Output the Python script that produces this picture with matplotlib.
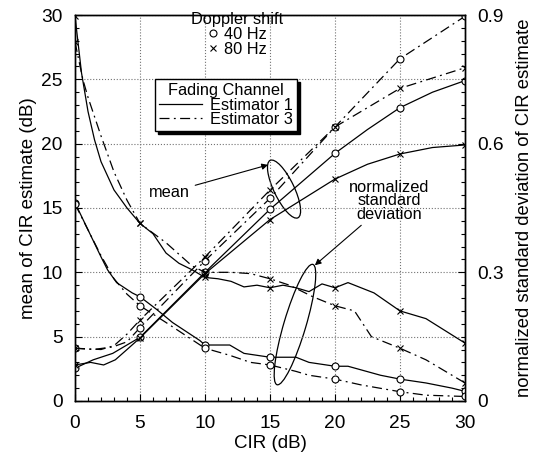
import numpy as np
import matplotlib.pyplot as plt
from matplotlib.lines import Line2D
from matplotlib.patches import Ellipse
from matplotlib.ticker import MultipleLocator, FuncFormatter

plt.rcParams['font.family'] = ['Liberation Sans', 'DejaVu Sans']

# mean of CIR estimate (dB) -- left axis
m1_40_x = [0, 1.4, 2.9, 5, 10, 15, 20, 22.5, 25, 27.5, 30]
m1_40_y = [2.55, 3.2, 3.7, 4.95, 10.0, 14.9, 19.25, 21.1, 22.8, 24.0, 24.9]
m1_80_x = [0, 1.2, 2.2, 3.1, 4, 5, 10, 15, 20, 22.5, 25, 27.5, 30]
m1_80_y = [2.8, 3.0, 2.8, 3.2, 4.0, 4.9, 9.9, 14.1, 17.25, 18.4, 19.2, 19.7, 19.9]
m3_40_x = [0, 1.4, 2.9, 4, 5, 10, 15, 20, 25, 30]
m3_40_y = [4.1, 4.0, 4.2, 4.6, 5.7, 10.9, 15.75, 21.3, 26.6, 29.9]
m3_80_x = [0, 2, 3, 4, 5, 10, 15, 20, 25, 30]
m3_80_y = [4.1, 4.0, 4.3, 5.2, 6.3, 11.2, 16.4, 21.3, 24.3, 25.9]

# normalized standard deviation of CIR estimate -- right axis
s1_80_x = [0, 0.5, 1, 1.5, 2, 3, 4, 5, 6, 7, 8, 9, 10, 11, 12, 13, 14, 15, 16,
           17, 18, 19, 20, 21, 23, 25, 27, 30]
s1_80_y = [0.897, 0.765, 0.675, 0.609, 0.558, 0.492, 0.45, 0.414, 0.39, 0.345,
           0.321, 0.306, 0.288, 0.285, 0.279, 0.266, 0.27, 0.264, 0.27, 0.264,
           0.255, 0.273, 0.264, 0.276, 0.252, 0.21, 0.192, 0.135]
s3_80_x = [0, 0.6, 1, 2, 3, 4, 5, 7, 9, 10, 12, 13.5, 15, 16.5, 18.3, 20, 21.5,
           22.8, 25, 27, 30]
s3_80_y = [0.837, 0.75, 0.708, 0.618, 0.534, 0.468, 0.414, 0.369, 0.315, 0.3,
           0.3, 0.297, 0.285, 0.27, 0.243, 0.222, 0.21, 0.15, 0.123, 0.096, 0.042]
s1_40_x = [0, 1, 2, 2.5, 3.2, 4.4, 5, 6.3, 7.5, 9.6, 10, 11.9, 13, 15, 17, 18,
           20, 21, 23.5, 25, 27, 29, 30]
s1_40_y = [0.462, 0.399, 0.336, 0.306, 0.276, 0.252, 0.243, 0.213, 0.183, 0.141,
           0.1305, 0.1305, 0.111, 0.102, 0.102, 0.09, 0.081, 0.081, 0.06, 0.051,
           0.042, 0.03, 0.0225]
s3_40_x = [0, 1, 2, 3, 4, 5, 7, 8.5, 10, 11.9, 13.5, 15, 17, 18, 20, 22, 25, 27, 30]
s3_40_y = [0.459, 0.399, 0.339, 0.285, 0.249, 0.222, 0.183, 0.153, 0.123, 0.1065,
           0.09, 0.084, 0.069, 0.06, 0.051, 0.0375, 0.0216, 0.0135, 0.0105]

marked = [0, 5, 10, 15, 20, 25, 30]
solid = dict(color='k', lw=0.9, ls='-')
dashdot = dict(color='k', lw=0.9, dashes=[8, 3.5, 1.5, 3.5])
circ = dict(marker='o', ms=5, mfc='white', mec='k', mew=0.8)
cross = dict(marker='x', ms=4.5, mec='k', mew=0.8)


def curve(axis, x, y, style, mark):
    idx = [i for i, v in enumerate(x) if v in marked]
    axis.plot(x, y, markevery=idx, **style, **mark)


fig = plt.figure(figsize=(5.37, 4.59), dpi=100)
ax = fig.add_axes([0.1397, 0.1264, 0.7262, 0.8409])
ax2 = ax.twinx()

curve(ax, m1_40_x, m1_40_y, solid, circ)
curve(ax, m1_80_x, m1_80_y, solid, cross)
curve(ax, m3_40_x, m3_40_y, dashdot, circ)
curve(ax, m3_80_x, m3_80_y, dashdot, cross)

curve(ax2, s1_80_x, s1_80_y, solid, cross)
curve(ax2, s3_80_x, s3_80_y, dashdot, cross)
curve(ax2, s1_40_x, s1_40_y, solid, circ)
curve(ax2, s3_40_x, s3_40_y, dashdot, circ)

ax.set_xlim(0, 30)
ax.set_ylim(0, 30)
ax2.set_ylim(0, 0.9)
ax.xaxis.set_major_locator(MultipleLocator(5))
ax.xaxis.set_minor_locator(MultipleLocator(1))
ax.yaxis.set_major_locator(MultipleLocator(5))
ax.yaxis.set_minor_locator(MultipleLocator(1))
ax2.yaxis.set_major_locator(MultipleLocator(0.3))
ax2.yaxis.set_minor_locator(MultipleLocator(0.03))
ax2.yaxis.set_major_formatter(FuncFormatter(lambda v, p: f'{v:g}'))

ax.grid(which='major', ls=':', color='0.45', lw=0.8)
ax.tick_params(which='both', direction='in', labelsize=13.8, right=False, top=False)
ax.tick_params(axis='x', which='major', pad=10)
ax.tick_params(axis='y', which='major', pad=9)
ax.tick_params(which='major', length=5, width=0.8)
ax.tick_params(which='minor', length=3, width=0.8)
ax2.tick_params(which='both', direction='in', labelsize=13.8, width=0.8)
ax2.tick_params(which='major', length=5, pad=8.5)
ax2.tick_params(which='minor', length=3)
for axis in (ax, ax2):
    for s in axis.spines.values():
        s.set_linewidth(1.0)

ax.set_xlabel('CIR (dB)', fontsize=13.5, labelpad=2)
ax.set_ylabel('mean of CIR estimate (dB)', fontsize=13.5, labelpad=3)
ax2.set_ylabel('normalized standard deviation of CIR estimate', fontsize=13.3,
               labelpad=9)

# legends
dop = ax2.legend(handles=[Line2D([], [], ls='none', **circ),
                          Line2D([], [], ls='none', **cross)],
                 labels=['40 Hz', '80 Hz'], title='Doppler shift',
                 loc='upper center', bbox_to_anchor=(12.5, 30.25),
                 bbox_transform=ax.transData, frameon=False, fontsize=11.8,
                 title_fontsize=11.8, handlelength=0.6, handletextpad=0.35,
                 labelspacing=0.0, borderpad=0.0, borderaxespad=0)
ax2.add_artist(dop)
fad = ax2.legend(handles=[Line2D([], [], **solid), Line2D([], [], **dashdot)],
                 labels=['Estimator 1', 'Estimator 3'], title='Fading Channel',
                 loc='upper left', bbox_to_anchor=(6.15, 25.0),
                 bbox_transform=ax.transData, fontsize=11.8, title_fontsize=11.8,
                 handlelength=2.6, handletextpad=0.5, labelspacing=-0.05,
                 borderpad=0.25, borderaxespad=0, fancybox=False,
                 shadow={'color': 'k', 'alpha': 1},
                 framealpha=1, edgecolor='k')
fad.get_frame().set_linewidth(1.0)

# annotations
ax.annotate('mean', xy=(14.85, 18.35), xytext=(7.25, 16.2), fontsize=11.8,
            ha='center', va='center',
            arrowprops=dict(arrowstyle='-|>', color='k', lw=0.8,
                            mutation_scale=9, shrinkA=2, shrinkB=0))
ax.add_patch(Ellipse((16.08, 16.47), 4.95, 1.55, angle=-64.5, fill=False,
                     ec='k', lw=0.9))
ax.annotate('normalized\nstandard\ndeviation', xy=(18.45, 10.55),
            xytext=(24.2, 15.55), fontsize=11.8, ha='center', va='center',
            linespacing=0.85,
            arrowprops=dict(arrowstyle='-|>', color='k', lw=0.8,
                            mutation_scale=9, shrinkA=1, shrinkB=0))
ax.add_patch(Ellipse((16.92, 5.94), 9.75, 1.7, angle=73.6, fill=False,
                     ec='k', lw=0.9))

fig.savefig('out.png', dpi=100)
